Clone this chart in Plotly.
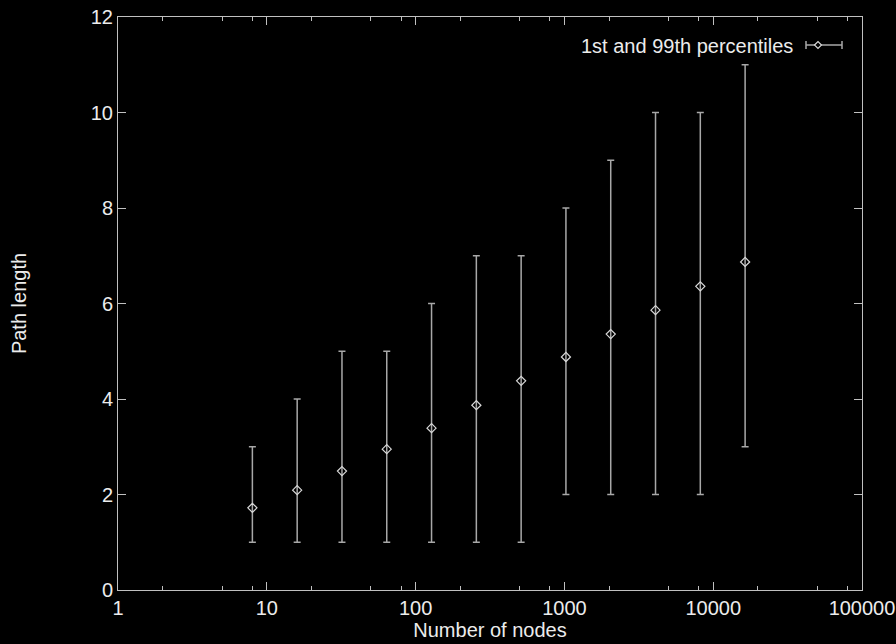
import plotly.graph_objects as go

nodes = [8, 16, 32, 64, 128, 256, 512, 1024, 2048, 4096, 8192, 16384]
mean_len = [1.72, 2.09, 2.49, 2.95, 3.39, 3.87, 4.38, 4.88, 5.36, 5.86, 6.36, 6.87]
p1 = [1, 1, 1, 1, 1, 1, 1, 2, 2, 2, 2, 3]
p99 = [3, 4, 5, 5, 6, 7, 7, 8, 9, 10, 10, 11]
x_ticks = [1, 10, 100, 1000, 10000, 100000]
x_minor = [2, 5, 8, 20, 50, 80, 200, 500, 800, 2000, 5000, 8000, 20000, 50000, 80000]
y_ticks = [0, 2, 4, 6, 8, 10, 12]

FONT = "Liberation Sans, Arial, sans-serif"
FS = 20
TXT = "#ececec"
AX = "#c0c0c0"
BAR = "#a8a8a8"

fig = go.Figure()
fig.add_trace(go.Scatter(
    x=nodes, y=mean_len, mode="markers",
    name="1st and 99th percentiles",
    marker=dict(symbol="diamond-open", size=7, color="#d8d8d8", line=dict(width=1.2)),
    error_y=dict(type="data", symmetric=False,
                 array=[u - m for u, m in zip(p99, mean_len)],
                 arrayminus=[m - l for m, l in zip(mean_len, p1)],
                 color=BAR, thickness=1.5, width=3.5),
    showlegend=False,
))

# legend replica: text + key (text on left, key on right as in original)
fig.add_annotation(xref="paper", yref="paper", x=(795 - 118) / 744, y=(590 - 46) / 573,
                   text="1st and 99th percentiles", showarrow=False,
                   xanchor="right", yanchor="middle",
                   font=dict(family=FONT, size=FS, color=TXT))
kx0 = (806 - 118) / 744
kx1 = (842 - 118) / 744
ky = (590 - 45) / 573
fig.add_shape(type="line", xref="paper", yref="paper", x0=kx0, x1=kx1, y0=ky, y1=ky,
              line=dict(color=BAR, width=1.5))
for kx in (kx0, kx1):
    fig.add_shape(type="line", xref="paper", yref="paper", x0=kx, x1=kx,
                  y0=ky - 4 / 573, y1=ky + 4 / 573, line=dict(color=BAR, width=1.5))
dx = (818 - 118) / 744
fig.add_shape(type="path", xref="paper", yref="paper",
              path=f"M {dx - 3.5/744} {ky} L {dx} {ky + 3.5/573} L {dx + 3.5/744} {ky} L {dx} {ky - 3.5/573} Z",
              fillcolor="black", line=dict(color="#d8d8d8", width=1.2))

axis_common = dict(showgrid=False, zeroline=False, showline=True, linecolor=AX, linewidth=1,
                   mirror="ticks", ticks="inside", tickcolor=AX, tickwidth=1, ticklen=8,
                   automargin=False,
                   tickfont=dict(family=FONT, size=FS, color=TXT))

fig.update_xaxes(type="log", range=[0, 5], tickvals=x_ticks,
                 ticktext=[str(v) for v in x_ticks],
                 minor=dict(tickvals=x_minor, ticks="inside", ticklen=4, tickcolor=AX, tickwidth=1),
                 title=dict(text="Number of nodes", font=dict(family=FONT, size=FS, color=TXT), standoff=4),
                 **axis_common)
fig.update_yaxes(range=[0, 12], tickvals=y_ticks,
                 title=dict(text="Path length", font=dict(family=FONT, size=FS, color=TXT), standoff=58),
                 **axis_common)

fig.update_layout(width=896, height=644, paper_bgcolor="black", plot_bgcolor="black",
                  margin=dict(l=118, r=34, t=17, b=54), showlegend=False)
fig.write_html("out.html", config={"displayModeBar": False},
               post_script="document.body.style.margin='0';document.body.style.background='black';document.body.style.overflow='hidden';")
